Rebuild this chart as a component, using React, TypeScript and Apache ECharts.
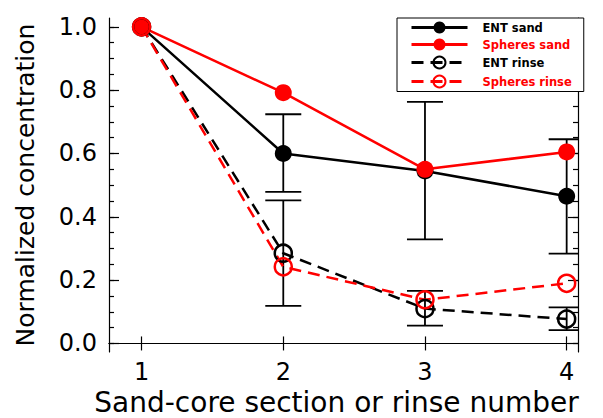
import React, { useEffect, useRef } from "react";
import * as echarts from "echarts";

const xValues = [1, 2, 3, 4];
const entSand = [1.0, 0.6, 0.545, 0.465];
const spheresSand = [1.0, 0.792, 0.55, 0.605];
const entRinse = [1.0, 0.285, 0.11, 0.077];
const spheresRinse = [1.0, 0.242, 0.138, 0.19];

const errX = [2, 3, 4];
const entSandLow = [0.479, 0.329, 0.284];
const entSandHigh = [0.724, 0.763, 0.645];
const entRinseLow = [0.119, 0.056, 0.042];
const entRinseHigh = [0.452, 0.166, 0.114];

const xTicks = [1, 2, 3, 4];
const yTicks = [0, 0.2, 0.4, 0.6, 0.8, 1.0];
const yMinorTicks = [
  0, 0.05, 0.1, 0.15, 0.2, 0.25, 0.3, 0.35, 0.4, 0.45, 0.5, 0.55, 0.6, 0.65,
  0.7, 0.75, 0.8, 0.85, 0.9, 0.95, 1.0,
];

const X_MIN = 0.77;
const X_MAX = 4.08;
const Y_MIN = -0.027;
const Y_MAX = 1.028;

const FONT = "DejaVu Sans";

export default function App() {
  const ref = useRef<HTMLDivElement>(null);

  useEffect(() => {
    document.body.style.margin = "0";
    if (!ref.current) return;
    const chart = echarts.init(ref.current, null, { renderer: "svg" });

    const pairs = (ys: number[]) => xValues.map((x, i) => [x, ys[i]]);
    const errData = (lo: number[], hi: number[]) =>
      errX.map((x, i) => [x, lo[i], hi[i]]);

    const errSeries = (name: string, data: number[][]) => ({
      type: "custom",
      name,
      clip: true,
      encode: { x: 0, y: [1, 2] },
      data,
      renderItem: (params: any, api: any) => {
        const x = api.value(0);
        const lo = api.coord([x, api.value(1)]);
        const hi = api.coord([x, api.value(2)]);
        const hw = 18;
        const style = { stroke: "#000", lineWidth: 1.8, fill: "none" };
        return {
          type: "group",
          children: [
            { type: "line", shape: { x1: lo[0], y1: lo[1], x2: hi[0], y2: hi[1] }, style },
            { type: "line", shape: { x1: lo[0] - hw, y1: lo[1], x2: lo[0] + hw, y2: lo[1] }, style },
            { type: "line", shape: { x1: hi[0] - hw, y1: hi[1], x2: hi[0] + hw, y2: hi[1] }, style },
          ],
        };
      },
    });

    const axisLine = { show: true, lineStyle: { color: "#000", width: 1.2 } };

    const option: any = {
      animation: false,
      backgroundColor: "#fff",
      grid: {
        left: 109,
        top: 18,
        right: 25,
        bottom: 66,
        containLabel: false,
        outerBoundsMode: "none",
      },
      legend: {
        orient: "vertical",
        left: 397,
        top: 18,
        padding: [3.5, 12, 3, 13],
        itemWidth: 56,
        itemHeight: 15,
        itemGap: 5,
        borderColor: "#000",
        borderWidth: 1,
        backgroundColor: "#fff",
        lineStyle: { width: 3 },
        textStyle: {
          fontFamily: FONT,
          fontWeight: "bold",
          fontSize: 11.5,
          padding: [0, 0, 0, 10],
        },
        data: [
          { name: "ENT sand", textStyle: { color: "#000" } },
          { name: "Spheres sand", textStyle: { color: "#ff0000" } },
          { name: "ENT rinse", textStyle: { color: "#000" } },
          { name: "Spheres rinse", textStyle: { color: "#ff0000" } },
        ],
      },
      xAxis: [
        {
          type: "value",
          min: X_MIN,
          max: X_MAX,
          position: "bottom",
          name: "Sand-core section or rinse number",
          nameLocation: "middle",
          nameGap: 35,
          nameTextStyle: {
            fontFamily: FONT,
            fontSize: 28,
            color: "#000",
            padding: [0, 14, 0, 0],
          },
          axisLine,
          splitLine: { show: false },
          axisTick: {
            show: true,
            inside: true,
            length: 7,
            customValues: xTicks,
            lineStyle: { color: "#000", width: 1.2 },
          },
          axisLabel: {
            customValues: xTicks,
            margin: 8,
            fontFamily: FONT,
            fontSize: 24,
            color: "#000",
            formatter: (v: number) => String(v),
          },
        },
        {
          type: "value",
          min: X_MIN,
          max: X_MAX,
          position: "top",
          axisLine,
          splitLine: { show: false },
          axisTick: {
            show: true,
            inside: true,
            length: 7,
            customValues: xTicks,
            lineStyle: { color: "#000", width: 1.2 },
          },
          axisLabel: { show: false },
        },
      ],
      yAxis: [
        {
          type: "value",
          min: Y_MIN,
          max: Y_MAX,
          position: "left",
          name: "Normalized concentration",
          nameLocation: "middle",
          nameGap: 71,
          nameTextStyle: { fontFamily: FONT, fontSize: 25, color: "#000" },
          axisLine,
          splitLine: { show: false },
          axisTick: {
            show: true,
            inside: true,
            length: 10,
            customValues: yTicks,
            lineStyle: { color: "#000", width: 1.2 },
          },
          axisLabel: {
            customValues: yTicks,
            margin: 12,
            fontFamily: FONT,
            fontSize: 24,
            color: "#000",
            formatter: (v: number) => v.toFixed(1),
          },
        },
        {
          type: "value",
          min: Y_MIN,
          max: Y_MAX,
          position: "left",
          axisLine: { show: false },
          splitLine: { show: false },
          axisTick: {
            show: true,
            inside: true,
            length: 5,
            customValues: yMinorTicks,
            lineStyle: { color: "#000", width: 1.2 },
          },
          axisLabel: { show: false },
        },
        {
          type: "value",
          min: Y_MIN,
          max: Y_MAX,
          position: "right",
          axisLine,
          splitLine: { show: false },
          axisTick: {
            show: true,
            inside: true,
            length: 10,
            customValues: yTicks,
            lineStyle: { color: "#000", width: 1.2 },
          },
          axisLabel: { show: false },
        },
        {
          type: "value",
          min: Y_MIN,
          max: Y_MAX,
          position: "right",
          axisLine: { show: false },
          splitLine: { show: false },
          axisTick: {
            show: true,
            inside: true,
            length: 5,
            customValues: yMinorTicks,
            lineStyle: { color: "#000", width: 1.2 },
          },
          axisLabel: { show: false },
        },
      ],
      series: [
        errSeries("err ENT sand", errData(entSandLow, entSandHigh)),
        errSeries("err ENT rinse", errData(entRinseLow, entRinseHigh)),
        {
          type: "line",
          name: "ENT sand",
          data: pairs(entSand),
          symbol: "circle",
          symbolSize: 17,
          lineStyle: { color: "#000", width: 2.5, type: "solid" },
          itemStyle: { color: "#000" },
        },
        {
          type: "line",
          name: "Spheres sand",
          data: pairs(spheresSand),
          symbol: "circle",
          symbolSize: 17,
          lineStyle: { color: "#ff0000", width: 2.5, type: "solid" },
          itemStyle: { color: "#ff0000" },
        },
        {
          type: "line",
          name: "ENT rinse",
          data: pairs(entRinse),
          symbol: "circle",
          symbolSize: 17,
          lineStyle: { color: "#000", width: 2.5, type: [12, 7] },
          itemStyle: { color: "rgba(0,0,0,0)", borderColor: "#000", borderWidth: 2.5 },
        },
        {
          type: "line",
          name: "Spheres rinse",
          data: pairs(spheresRinse),
          symbol: "circle",
          symbolSize: 17,
          lineStyle: { color: "#ff0000", width: 2.5, type: [12, 7] },
          itemStyle: { color: "rgba(0,0,0,0)", borderColor: "#ff0000", borderWidth: 2.5 },
        },
      ],
    };

    chart.setOption(option);
    return () => chart.dispose();
  }, []);

  return <div ref={ref} style={{ width: 603, height: 418 }} />;
}
